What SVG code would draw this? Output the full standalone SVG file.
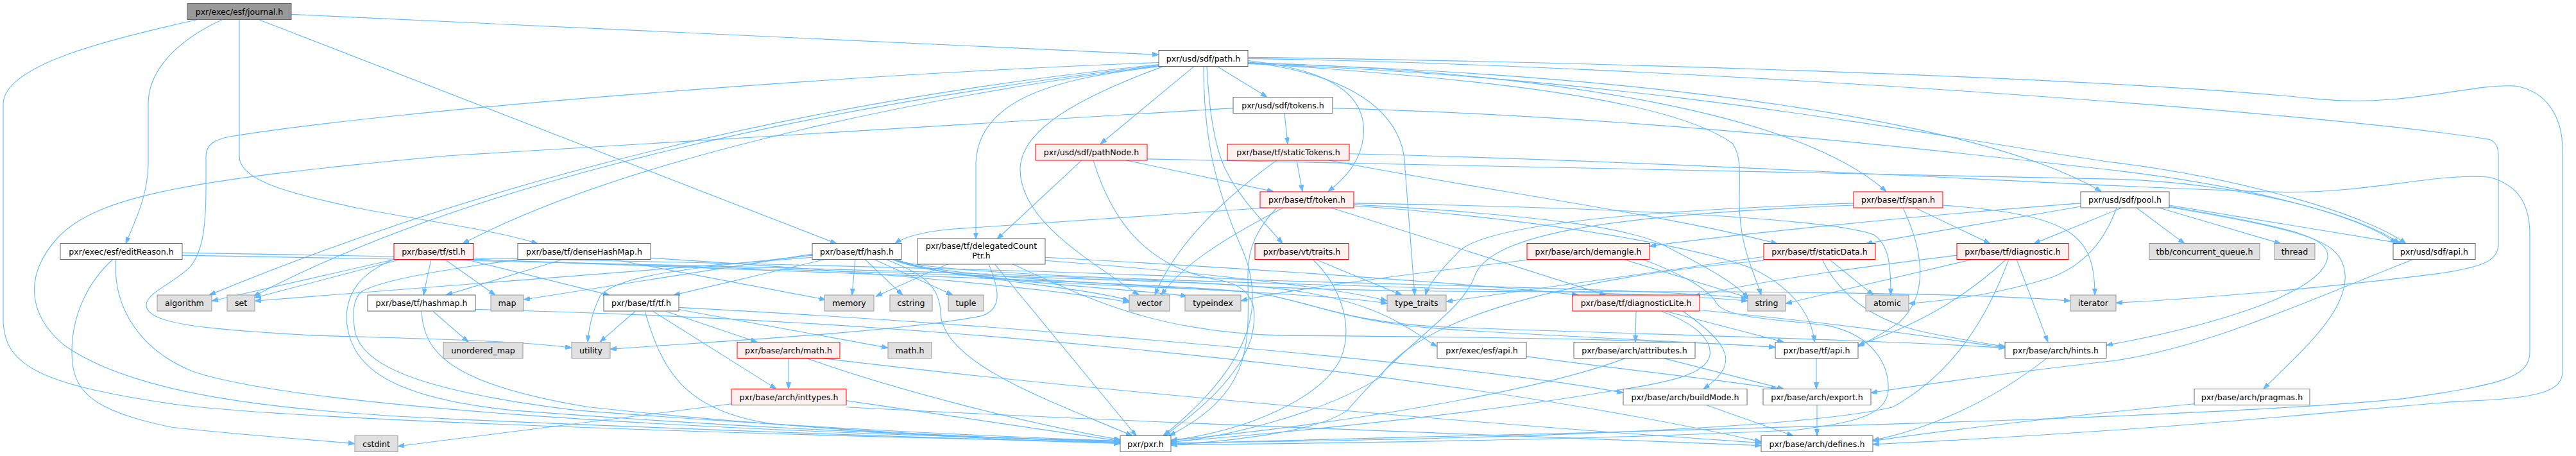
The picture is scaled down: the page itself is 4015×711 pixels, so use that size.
<svg xmlns="http://www.w3.org/2000/svg" width="4015" height="711" viewBox="0 0 4015 711">
<defs>
<marker id="ah" markerWidth="10" markerHeight="8" refX="10" refY="3.5" orient="auto" markerUnits="userSpaceOnUse"><path d="M0,0 L10,3.5 L0,7 z" fill="#63b8ff" stroke="#63b8ff" stroke-width="1"/></marker>
</defs>
<style>
.e path{fill:none;stroke:#63b8ff;stroke-width:1.1;marker-end:url(#ah)}
.w rect{fill:#ffffff;stroke:#666666}
.r rect{fill:#fff0f0;stroke:#ff0000}
.g rect{fill:#e0e0e0;stroke:#999999}
.root rect{fill:#999999;stroke:#666666}
text{font-family:"DejaVu Sans","Liberation Sans",sans-serif;font-size:12.6px;text-anchor:middle;fill:#000000}
</style>
<rect x="0" y="0" width="4015" height="711" fill="#ffffff"/>
<g id="edges" class="e" transform="matrix(1 0 0 1.0157 0 0)">
<path d="M308,30 C170,60 5,100 5,160 L5,490 C5,560 60,590 268,620 C450,645 1200,668 1746,679"/>
<path d="M347,30 C290,55 231,100 231,160 L231,250 C231,300 210,340 196,374"/>
<path d="M373,30 L373,240 C373,275 440,295 560,320 C680,342 780,355 838,374"/>
<path d="M403,30 L1304,374"/>
<path d="M454,22 L1806,84"/>
<path d="M176,398 C140,430 112,480 112,540 C112,600 140,630 268,656 C400,670 500,676 553,681"/>
<path d="M181,398 C175,450 200,530 300,570 C450,620 1000,660 1746,677"/>
<path d="M284,392 C900,402 1700,420 1960,440 C2150,455 2200,510 2240,532"/>
<path d="M284,388 C900,398 1700,415 1960,430 C2300,440 2600,445 2724,458"/>
<path d="M1806,96 C1300,115 600,170 357,210 C330,215 321,225 321,240 L321,290 C321,350 315,390 295,411 C270,435 228,450 228,468 C228,495 300,505 491,515 C650,520 800,522 891,534"/>
<path d="M1806,99 C1300,150 800,260 326,453"/>
<path d="M1806,100 C1300,160 750,270 395,455"/>
<path d="M1806,101 C1500,140 1000,230 721,374"/>
<path d="M1806,102 C1650,120 1525,150 1521,250 L1521,367"/>
<path d="M1813,102 C1680,150 1590,200 1590,260 C1590,340 1700,400 1775,453"/>
<path d="M1861,102 L1715,221"/>
<path d="M1876,102 C1876,200 1890,280 1935,380 C1975,470 1950,560 1813,669"/>
<path d="M1881,102 C1885,180 1895,230 1910,260 C1935,310 1975,345 1999,374"/>
<path d="M1897,102 L1975,149"/>
<path d="M1945,93 C2100,110 2130,160 2125,210 C2120,250 2095,275 2070,294"/>
<path d="M1945,95 C2150,120 2190,200 2190,260 L2205,453"/>
<path d="M1945,97 C2300,120 2600,150 2700,220 C2715,240 2711,270 2711,310 C2711,380 2735,420 2745,453"/>
<path d="M1945,96 C2400,110 2800,170 2940,294"/>
<path d="M1945,97 C2600,115 3100,190 3275,294"/>
<path d="M1945,98 C2600,120 3100,225 3300,250 C3500,275 3690,330 3750,374"/>
<path d="M1945,88 C2500,95 3300,120 3612,152 C3750,165 3850,128 3920,132 C3970,140 3994,180 3994,230 L3994,570 C3994,600 3960,612 3836,616 C3700,625 3400,660 2919,682"/>
<path d="M1945,90 C2600,100 3600,170 3880,214 C3894,220 3894,232 3894,240 L3894,375 C3894,400 3870,410 3800,420 C3600,445 3400,460 3298,465"/>
<path d="M1922,166 C1400,200 900,225 700,239 C300,275 150,300 89,366 C40,420 40,480 100,530 C200,600 400,630 700,643 C1200,665 1500,673 1746,681"/>
<path d="M2002,174 L2007,221"/>
<path d="M2077,166 C2600,180 3100,240 3300,262 C3500,285 3680,330 3735,374"/>
<path d="M1686,246 L1554,367"/>
<path d="M1704,246 C1730,330 1780,410 1900,430 C1960,440 1960,480 1950,520 C1930,580 1870,630 1815,669"/>
<path d="M1755,246 L1985,294"/>
<path d="M1788,244 C2400,260 3000,265 3300,275 C3500,282 3680,330 3740,374"/>
<path d="M2021,246 L2030,294"/>
<path d="M1990,246 C1900,310 1830,380 1800,453"/>
<path d="M2071,246 C2300,290 2600,330 2770,374"/>
<path d="M2103,236 C2700,250 3300,290 3568,295 C3700,295 3800,265 3880,272 C3930,285 3943,320 3943,360 L3943,540 C3943,580 3900,590 3746,612 C3400,645 2600,660 1825,681"/>
<path d="M1975,319 C1800,330 1600,345 1480,352 C1440,356 1410,363 1395,374"/>
<path d="M2075,319 L2503,453"/>
<path d="M2110,312 C2500,318 2850,335 2920,360 C2945,375 2947,410 2947,453"/>
<path d="M2110,314 C2400,330 2550,350 2600,380 C2680,420 2710,440 2725,458"/>
<path d="M2110,316 C2400,335 2650,380 2733,413 C2800,445 2825,490 2828,525"/>
<path d="M2000,319 C1900,370 1840,410 1810,453"/>
<path d="M1990,319 C1960,350 1945,380 1945,420 C1945,520 1960,600 1822,669"/>
<path d="M2966,319 C2995,380 3010,450 2960,495 C2930,515 2910,525 2896,532"/>
<path d="M2985,319 L3102,374"/>
<path d="M3028,315 C3230,330 3265,360 3265,453"/>
<path d="M2889,312 C2500,325 2300,350 2270,390 C2240,420 2225,440 2222,453"/>
<path d="M2889,315 C2500,330 2330,360 2300,420 C2280,480 2200,515 2100,630 C2050,665 1900,678 1825,683"/>
<path d="M3330,319 L3405,374"/>
<path d="M3365,319 L3555,374"/>
<path d="M3381,315 L3745,374"/>
<path d="M3381,318 C3600,355 3650,370 3655,420 C3660,480 3580,545 3528,597"/>
<path d="M3381,317 C3580,350 3630,365 3628,395 C3620,450 3450,500 3283,530"/>
<path d="M3307,319 L3170,374"/>
<path d="M3243,317 L2908,374"/>
<path d="M3243,312 C3000,330 2700,360 2571,378"/>
<path d="M3299,319 C3280,370 3250,405 3200,425 C3120,450 3050,460 2975,466"/>
<path d="M3762,398 C3600,460 3450,530 3300,553 C3150,570 3000,590 2916,603"/>
<path d="M1478,405 L1365,455"/>
<path d="M1541,405 C1560,450 1560,475 1530,485 C1400,510 1100,525 951,536"/>
<path d="M1550,405 L1771,669"/>
<path d="M1577,405 C1700,460 1800,510 2000,515 C2400,518 2600,522 2767,533"/>
<path d="M1629,395 C2000,415 2350,440 2460,453"/>
<path d="M1629,400 C1900,420 2100,445 2162,462"/>
<path d="M1333,398 L1328,453"/>
<path d="M1348,398 L1407,453"/>
<path d="M1362,398 L1485,453"/>
<path d="M1287,398 L1050,453"/>
<path d="M1266,390 L816,460"/>
<path d="M1266,395 L397,462"/>
<path d="M1266,392 C1100,410 960,420 935,455 C925,475 918,500 916,525"/>
<path d="M1390,398 C1450,425 1700,440 1760,462"/>
<path d="M1393,398 C1460,430 1800,445 1850,455"/>
<path d="M1395,398 C1470,435 2050,445 2162,466"/>
<path d="M1395,398 C1470,435 2500,440 2724,462"/>
<path d="M1398,398 C1480,440 1900,440 1960,450 C2050,465 2100,495 2250,505 C2450,518 2650,525 2767,533"/>
<path d="M1380,398 C1440,420 1465,440 1466,480 C1468,560 1650,620 1765,669"/>
<path d="M990,478 L935,525"/>
<path d="M1005,478 C1030,560 1060,630 1200,650 C1450,672 1650,678 1746,680"/>
<path d="M1018,478 L1210,597"/>
<path d="M1038,478 L1180,525"/>
<path d="M1058,475 L1384,534"/>
<path d="M1058,472 C1600,500 2300,560 2530,603"/>
<path d="M616,398 L330,462"/>
<path d="M625,398 L397,457"/>
<path d="M672,398 L660,453"/>
<path d="M693,398 L772,453"/>
<path d="M725,398 L950,453"/>
<path d="M614,398 C560,420 540,450 540,490 C545,560 600,610 800,630 C1200,660 1500,670 1746,678"/>
<path d="M735,398 C1300,418 1850,430 1960,440 C2200,450 2400,447 2700,448 C3000,450 3150,455 3227,462"/>
<path d="M735,398 C1300,420 1850,435 1960,450 C2050,465 2100,495 2250,502 C2500,512 2900,520 3125,534"/>
<path d="M878,398 L695,453"/>
<path d="M955,398 L1287,460"/>
<path d="M1014,396 C1400,420 1650,445 1760,464"/>
<path d="M811,398 C760,405 600,425 563,448 C550,460 550,480 552,500 C556,560 650,600 900,630 C1300,660 1600,672 1746,677"/>
<path d="M675,478 L730,525"/>
<path d="M657,478 C660,540 700,590 918,625 C1200,655 1500,672 1746,679"/>
<path d="M741,475 C1400,490 2200,560 2745,678"/>
<path d="M1229,550 L1229,597"/>
<path d="M1282,550 C1700,600 2300,650 2745,680"/>
<path d="M1257,550 C1400,600 1600,650 1746,675"/>
<path d="M1140,620 L620,685"/>
<path d="M1319,625 C1800,650 2400,670 2745,684"/>
<path d="M1319,615 L1746,677"/>
<path d="M2050,398 L2185,453"/>
<path d="M2046,398 C2090,440 2110,500 2090,550 C2060,610 1950,660 1825,676"/>
<path d="M2390,398 C2200,420 2000,445 1934,462"/>
<path d="M2530,398 L2728,458"/>
<path d="M2560,398 C2620,420 2665,445 2675,465 C2690,490 2780,490 2850,500 C2920,515 2945,560 2943,600 C2940,640 2880,650 2800,660 C2500,675 2100,680 1825,683"/>
<path d="M2851,398 L2920,453"/>
<path d="M2840,398 C2870,460 2930,495 3000,510 C3060,522 3100,528 3125,532"/>
<path d="M2749,394 C2500,430 2350,450 2254,463"/>
<path d="M2749,400 C2400,430 2200,500 2150,580 C2050,640 1900,672 1825,679"/>
<path d="M3075,398 L2783,466"/>
<path d="M3050,392 C2900,410 2750,430 2640,455"/>
<path d="M3127,398 C3070,450 3000,495 2896,530"/>
<path d="M3143,398 L3192,525"/>
<path d="M3131,398 C3100,480 3050,570 2950,625 C2800,660 2300,675 1825,680"/>
<path d="M2550,478 L2549,525"/>
<path d="M2597,478 L2780,525"/>
<path d="M2623,478 C2700,530 2710,560 2655,597"/>
<path d="M2649,476 C2850,495 3000,515 3125,534"/>
<path d="M2590,478 C2650,500 2668,525 2665,545 C2660,575 2600,588 2500,602 C2300,635 2000,665 1825,678"/>
<path d="M2593,550 L2780,597"/>
<path d="M2533,550 C2400,600 2100,650 1825,676"/>
<path d="M2831,550 L2831,597"/>
<path d="M2378,547 C2550,570 2700,585 2770,597"/>
<path d="M3190,550 C3100,620 3000,660 2919,676"/>
<path d="M2832,622 L2832,669"/>
<path d="M2660,622 L2795,669"/>
<path d="M3420,620 C3200,640 3000,665 2919,677"/>
</g>
<g id="n_journal" class="root"><rect x="292" y="5.5" width="162" height="25"/><text x="373" y="22.5">pxr/exec/esf/journal.h</text></g>
<g id="n_path" class="w"><rect x="1806" y="78.5" width="139" height="25"/><text x="1875.5" y="95.5">pxr/usd/sdf/path.h</text></g>
<g id="n_sdftokens" class="w"><rect x="1922" y="151.5" width="155" height="25"/><text x="1999.5" y="168.5">pxr/usd/sdf/tokens.h</text></g>
<g id="n_pathNode" class="r"><rect x="1614" y="225" width="174" height="25"/><text x="1701" y="242">pxr/usd/sdf/pathNode.h</text></g>
<g id="n_staticTokens" class="r"><rect x="1913" y="225" width="190" height="25"/><text x="2008" y="242">pxr/base/tf/staticTokens.h</text></g>
<g id="n_token" class="r"><rect x="1964" y="299" width="146" height="25"/><text x="2037" y="316">pxr/base/tf/token.h</text></g>
<g id="n_span" class="r"><rect x="2889" y="299" width="139" height="25"/><text x="2958.5" y="316">pxr/base/tf/span.h</text></g>
<g id="n_pool" class="w"><rect x="3243" y="299" width="138" height="25"/><text x="3312" y="316">pxr/usd/sdf/pool.h</text></g>
<g id="n_editReason" class="w"><rect x="94" y="379.5" width="190" height="25"/><text x="189" y="396.5">pxr/exec/esf/editReason.h</text></g>
<g id="n_stl" class="r"><rect x="614" y="379.5" width="124" height="25"/><text x="676" y="396.5">pxr/base/tf/stl.h</text></g>
<g id="n_denseHashMap" class="w"><rect x="807" y="379.5" width="207" height="25"/><text x="910.5" y="396.5">pxr/base/tf/denseHashMap.h</text></g>
<g id="n_hash" class="w"><rect x="1266" y="379.5" width="139" height="25"/><text x="1335.5" y="396.5">pxr/base/tf/hash.h</text></g>
<g id="n_delegatedCountPtr" class="w"><rect x="1430" y="372" width="199" height="40"/><text x="1529.5" y="388">pxr/base/tf/delegatedCount</text><text x="1529.5" y="402.5">Ptr.h</text></g>
<g id="n_vttraits" class="r"><rect x="1956" y="379.5" width="146" height="25"/><text x="2029" y="396.5">pxr/base/vt/traits.h</text></g>
<g id="n_demangle" class="r"><rect x="2380" y="379.5" width="191" height="25"/><text x="2475.5" y="396.5">pxr/base/arch/demangle.h</text></g>
<g id="n_staticData" class="r"><rect x="2749" y="379.5" width="174" height="25"/><text x="2836" y="396.5">pxr/base/tf/staticData.h</text></g>
<g id="n_diagnostic" class="r"><rect x="3050" y="379.5" width="174" height="25"/><text x="3137" y="396.5">pxr/base/tf/diagnostic.h</text></g>
<g id="n_concurrent_queue" class="g"><rect x="3350" y="379.5" width="172" height="25"/><text x="3436" y="396.5">tbb/concurrent_queue.h</text></g>
<g id="n_thread" class="g"><rect x="3545" y="379.5" width="63" height="25"/><text x="3576.5" y="396.5">thread</text></g>
<g id="n_sdfapi" class="w"><rect x="3730" y="379.5" width="128" height="25"/><text x="3794" y="396.5">pxr/usd/sdf/api.h</text></g>
<g id="n_algorithm" class="g"><rect x="245" y="460" width="85" height="25"/><text x="287.5" y="477">algorithm</text></g>
<g id="n_set" class="g"><rect x="354" y="460" width="43" height="25"/><text x="375.5" y="477">set</text></g>
<g id="n_hashmap" class="w"><rect x="573" y="460" width="168" height="25"/><text x="657" y="477">pxr/base/tf/hashmap.h</text></g>
<g id="n_map" class="g"><rect x="765" y="460" width="51" height="25"/><text x="790.5" y="477">map</text></g>
<g id="n_tf" class="w"><rect x="941" y="460" width="117" height="25"/><text x="999.5" y="477">pxr/base/tf/tf.h</text></g>
<g id="n_memory" class="g"><rect x="1285" y="460" width="77" height="25"/><text x="1323.5" y="477">memory</text></g>
<g id="n_cstring" class="g"><rect x="1387" y="460" width="66" height="25"/><text x="1420" y="477">cstring</text></g>
<g id="n_tuple" class="g"><rect x="1478" y="460" width="55" height="25"/><text x="1505.5" y="477">tuple</text></g>
<g id="n_vector" class="g"><rect x="1760" y="460" width="63" height="25"/><text x="1791.5" y="477">vector</text></g>
<g id="n_typeindex" class="g"><rect x="1847" y="460" width="87" height="25"/><text x="1890.5" y="477">typeindex</text></g>
<g id="n_type_traits" class="g"><rect x="2162" y="460" width="92" height="25"/><text x="2208" y="477">type_traits</text></g>
<g id="n_diagnosticLite" class="r"><rect x="2451" y="460" width="198" height="25"/><text x="2550" y="477">pxr/base/tf/diagnosticLite.h</text></g>
<g id="n_string" class="g"><rect x="2724" y="460" width="59" height="25"/><text x="2753.5" y="477">string</text></g>
<g id="n_atomic" class="g"><rect x="2908" y="460" width="67" height="25"/><text x="2941.5" y="477">atomic</text></g>
<g id="n_iterator" class="g"><rect x="3227" y="460" width="71" height="25"/><text x="3262.5" y="477">iterator</text></g>
<g id="n_unordered_map" class="g"><rect x="691" y="533.5" width="124" height="25"/><text x="753" y="550.5">unordered_map</text></g>
<g id="n_utility" class="g"><rect x="891" y="533.5" width="60" height="25"/><text x="921" y="550.5">utility</text></g>
<g id="n_archmath" class="r"><rect x="1149" y="533.5" width="160" height="25"/><text x="1229" y="550.5">pxr/base/arch/math.h</text></g>
<g id="n_mathh" class="g"><rect x="1384" y="533.5" width="68" height="25"/><text x="1418" y="550.5">math.h</text></g>
<g id="n_esfapi" class="w"><rect x="2240" y="533.5" width="139" height="25"/><text x="2309.5" y="550.5">pxr/exec/esf/api.h</text></g>
<g id="n_attributes" class="w"><rect x="2453" y="533.5" width="189" height="25"/><text x="2547.5" y="550.5">pxr/base/arch/attributes.h</text></g>
<g id="n_tfapi" class="w"><rect x="2767" y="533.5" width="129" height="25"/><text x="2831.5" y="550.5">pxr/base/tf/api.h</text></g>
<g id="n_hints" class="w"><rect x="3125" y="533.5" width="158" height="25"/><text x="3204" y="550.5">pxr/base/arch/hints.h</text></g>
<g id="n_inttypes" class="r"><rect x="1140" y="606.5" width="179" height="25"/><text x="1229.5" y="623.5">pxr/base/arch/inttypes.h</text></g>
<g id="n_buildMode" class="w"><rect x="2530" y="606.5" width="193" height="25"/><text x="2626.5" y="623.5">pxr/base/arch/buildMode.h</text></g>
<g id="n_export" class="w"><rect x="2748" y="606.5" width="168" height="25"/><text x="2832" y="623.5">pxr/base/arch/export.h</text></g>
<g id="n_pragmas" class="w"><rect x="3420" y="606.5" width="180" height="25"/><text x="3510" y="623.5">pxr/base/arch/pragmas.h</text></g>
<g id="n_cstdint" class="g"><rect x="553" y="679.5" width="67" height="25"/><text x="586.5" y="696.5">cstdint</text></g>
<g id="n_pxr" class="w"><rect x="1746" y="679.5" width="79" height="25"/><text x="1785.5" y="696.5">pxr/pxr.h</text></g>
<g id="n_defines" class="w"><rect x="2745" y="679.5" width="174" height="25"/><text x="2832" y="696.5">pxr/base/arch/defines.h</text></g>
</svg>
